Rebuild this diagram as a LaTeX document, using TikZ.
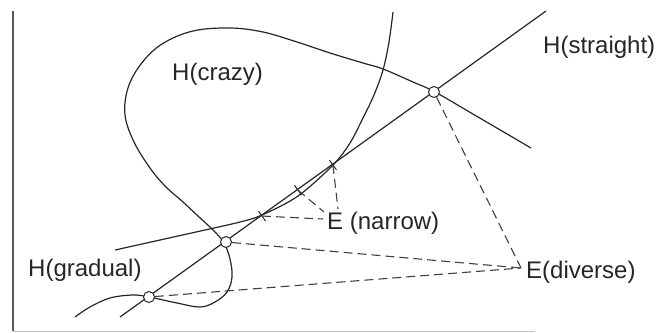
\documentclass[tikz,border=0pt]{standalone}
\usepackage{fontspec}
\setmainfont{Liberation Sans}
\usetikzlibrary{calc}
\begin{document}
\begin{tikzpicture}[x=1pt,y=-1pt,
  curve/.style={line width=1.2pt, black!85},
  dsh/.style={line width=1.1pt, dash pattern=on 9pt off 5pt, black!75},
  pt/.style={circle, draw=black!85, fill=white, line width=1pt, inner sep=0pt, minimum size=11pt},
  lbl/.style={inner sep=0pt, anchor=base west, font=\fontsize{24}{28}\selectfont, text=black!85},
  tickmark/.style={line width=1pt, black!85}]
\useasboundingbox (0,0) rectangle (658,332);
% frame
\draw[line width=1.1pt, black!65] (13,11) -- (13,331);
\draw[line width=0.8pt, black!25] (13,331) -- (535,331);
% straight hypothesis
\coordinate (sA) at (120,317);
\coordinate (sB) at (546,11);
\draw[curve] (sA) -- (sB);
% gradual hypothesis
\draw[curve] plot[smooth, tension=0.55] coordinates {(115,250) (160,240) (205,230) (240,222) (262,215) (298,196) (333,165) (350,143) (362,120) (374,95) (383,70) (389,42) (393,12)};
% crazy hypothesis
\draw[curve] plot[smooth, tension=0.6] coordinates {(75,317) (90,307) (110,298) (133,295) (149,297) (177,303) (200,307) (215,302) (227,292) (232,277) (230,259) (224,243) (214,231) (198,216) (183,202) (165,186) (150,168) (134,142) (125,115) (128,88) (141,64) (162,44) (193,31) (230,28) (263,32) (297,42) (330,53) (363,63) (383,69) (413,82) (435,92) (478,117) (531,148)};
% points
\node[pt] (c1) at (434,92) {};
\node[pt] (c2) at (226,242) {};
\node[pt] (c3) at (149,297) {};
% ticks
\coordinate (t1) at ($(c2)!0.173!(c1)$);
\coordinate (t2) at ($(c2)!0.346!(c1)$);
\coordinate (t3) at ($(c2)!0.514!(c1)$);
\foreach \t in {t1,t2,t3}{
  \draw[tickmark] ($(\t)+(3.5,4.9)$) -- ($(\t)-(3.5,4.9)$);
}
% labels
\node[lbl] (hcrazy) at (172,80.6) {H(crazy)};
\node[lbl] (hstraight) at (543,53.6) {H(straight)};
\node[lbl] (hgradual) at (28,276.6) {H(gradual)};
\node[lbl] (ediv) at (526,278.6) {E(diverse)};
\node[lbl] (enar) at (327,229.6) {E (narrow)};
% convergence points
\coordinate (dv) at (521,268);
\coordinate (n1) at (323,219);
\coordinate (n2) at (324,212);
\coordinate (n3) at (338,209);
% dashed
\draw[dsh] (c1) -- (dv);
\draw[dsh] (c2) -- (dv);
\draw[dsh] (c3) -- (dv);
\draw[dsh] (t1) -- (n1);
\draw[dsh] (t2) -- (n2);
\draw[dsh] (t3) -- (n3);
\end{tikzpicture}
\end{document}
